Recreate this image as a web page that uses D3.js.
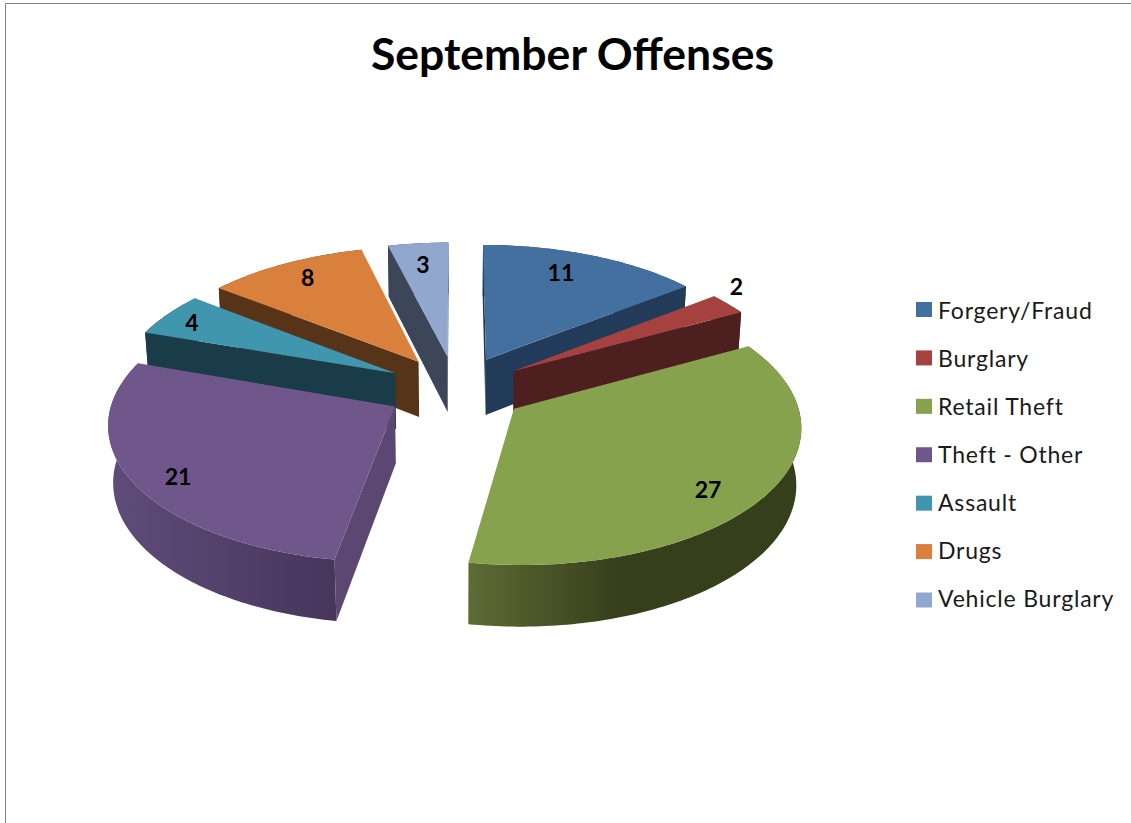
<!DOCTYPE html>
<html>
<head>
<meta charset="utf-8">
<title>September Offenses</title>
<script src="https://cdn.jsdelivr.net/npm/d3@7"></script>
<style>
  html, body { margin: 0; padding: 0; background: #fff; }
  svg { display: block; }
</style>
</head>
<body>
<svg id="chart" width="1131" height="823"></svg>
<script>
// Offense counts for the month
const categories = ["Forgery/Fraud", "Burglary", "Retail Theft", "Theft - Other", "Assault", "Drugs", "Vehicle Burglary"];
const counts = [11, 2, 27, 21, 4, 8, 3];
const chartTitle = "September Offenses";

// Palette: top face, flat side wall, and rim gradient stops
const topColors  = ["#44709F", "#A54240", "#87A24C", "#70578B", "#4096AE", "#D9803C", "#91A7CE"];
const wallColors = ["#233B5B", "#4D1F1E", "#3F4B22", "#5C4773", "#1A3B48", "#573417", "#3C4658"];
const rimStart   = ["#233B5B", "#4D1F1E", "#5E6B35", "#5F4C7A", "#1A3B48", "#573417", "#3C4658"];
const rimEnd     = ["#233B5B", "#4D1F1E", "#363F1B", "#47355C", "#1A3B48", "#573417", "#3C4658"];

// Label placement as fractions of the radius, across and along the view axis
const labelReach = [[0.696, 0.827], [1.059, 1.285], [0.77, 0.94], [0.826, 0.945], [0.885, 0.846], [0.82, 0.85], [0.82, 0.795]];

const FONT = "Lato, Carlito, 'Open Sans', sans-serif";
const svg = d3.select("#chart");

// Perspective camera looking down at the pie
const view = { cx: 456, cy: 389, sinE: 0.478, cosE: 0.878, dist: 2180 };
const radius = 280, explode = 70, thickness = 65;

function project(X, Y, Z) {
  const depth = Y * view.cosE + Z * view.sinE;
  const s = view.dist / (view.dist - depth);
  return [view.cx + X * s, view.cy + (Y * view.sinE - Z * view.cosE) * s];
}

const pie = d3.pie().sort(null).startAngle(0).endAngle(2 * Math.PI);
const arcs = pie(counts).map((d, i) => {
  const mid = (d.startAngle + d.endAngle) / 2;
  return {
    i, value: d.value, a0: d.startAngle, a1: d.endAngle, mid,
    ox: explode * Math.sin(mid), oy: -explode * Math.cos(mid)
  };
});

// World position of a point on a slice, at fraction f of the radius
const pt = (s, a, f, z) => project(
  s.ox + radius * f * Math.sin(a),
  s.oy - radius * f * Math.cos(a),
  z
);
const arcAngles = s => {
  const n = Math.max(8, Math.ceil((s.a1 - s.a0) / (Math.PI / 180)));
  return d3.range(n + 1).map(k => s.a0 + (s.a1 - s.a0) * k / n);
};
const poly = d3.line().curve(d3.curveLinearClosed);

const defs = svg.append("defs");
arcs.forEach(s => {
  const g = defs.append("linearGradient").attr("id", "rim" + s.i)
    .attr("x1", 0).attr("x2", 1).attr("y1", 0).attr("y2", 0);
  g.append("stop").attr("offset", 0).attr("stop-color", rimStart[s.i]);
  g.append("stop").attr("offset", s.i === 2 ? 0.45 : 1).attr("stop-color", rimEnd[s.i]);
});

// Chart-area border along the top and left
svg.append("path")
  .attr("d", "M5.5,823V3.5H1131")
  .attr("fill", "none").attr("stroke", "#808080").attr("stroke-width", 1);

svg.append("text")
  .attr("x", 572.5).attr("y", 69.5)
  .attr("text-anchor", "middle")
  .attr("font-family", FONT).attr("font-weight", 700).attr("font-size", 44.5)
  .attr("fill", "#000")
  .text(chartTitle);

// Paint slices from the farthest to the nearest
const order = arcs.slice().sort((a, b) => a.oy - b.oy);
const pieG = svg.append("g");

order.forEach(s => {
  const g = pieG.append("g");
  const angles = arcAngles(s);
  const topArc = angles.map(a => pt(s, a, 1, 0));
  const lowArc = angles.map(a => pt(s, a, 1, -thickness));

  // Outer rim
  g.append("path")
    .attr("d", poly(topArc.concat(lowArc.slice().reverse())))
    .attr("fill", `url(#rim${s.i})`);

  // Radial walls, kept only when they face the camera
  [[s.a0, 1], [s.a1, -1]].forEach(([a, side]) => {
    const quad = [pt(s, a, 0, 0), pt(s, a, 1, 0), pt(s, a, 1, -thickness), pt(s, a, 0, -thickness)];
    if (d3.polygonArea(quad) * side > 0) {
      g.append("path").attr("d", poly(quad)).attr("fill", wallColors[s.i]);
    }
  });

  // Top face
  g.append("path")
    .attr("d", poly([pt(s, s.a0, 0, 0)].concat(topArc)))
    .attr("fill", topColors[s.i]);
});

// Value labels
svg.append("g").selectAll("text")
  .data(arcs)
  .join("text")
  .attr("transform", d => {
    const [fx, fy] = labelReach[d.i];
    const p = project(
      d.ox + radius * fx * Math.sin(d.mid),
      d.oy - radius * fy * Math.cos(d.mid),
      0
    );
    return `translate(${p[0]},${p[1]})`;
  })
  .attr("dy", "0.36em")
  .attr("text-anchor", "middle")
  .attr("font-family", FONT).attr("font-weight", 700).attr("font-size", 23)
  .attr("fill", "#000")
  .text(d => d.value);

// Legend column
const swatchY = d3.scalePoint().domain(categories).range([309.5, 600]);
const labelY = d3.scalePoint().domain(categories).range([318.5, 606.5]);
const legend = svg.append("g");
legend.selectAll("rect")
  .data(categories)
  .join("rect")
  .attr("x", 916).attr("y", d => swatchY(d) - 7.5).attr("width", 16).attr("height", 15)
  .attr("fill", (d, i) => topColors[i]);
legend.selectAll("text")
  .data(categories)
  .join("text")
  .attr("x", 938).attr("y", d => labelY(d))
  .attr("font-family", FONT).attr("font-size", 23).attr("letter-spacing", 0.8)
  .attr("fill", "#1a1a1a")
  .text(d => d);
</script>
</body>
</html>
